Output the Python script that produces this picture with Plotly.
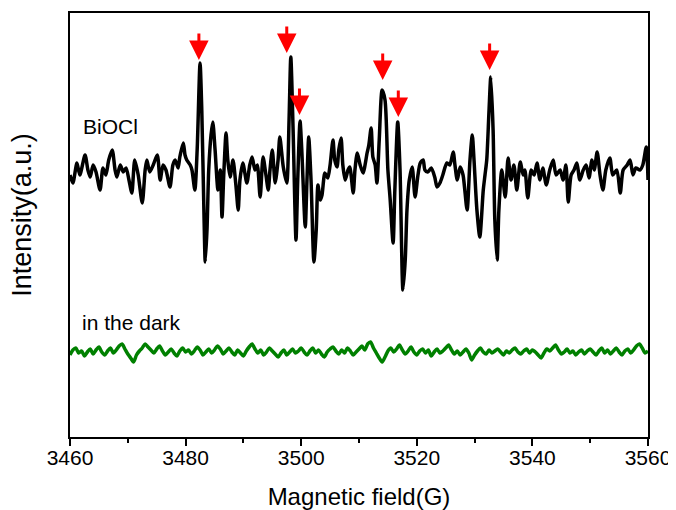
import plotly.graph_objects as go

# ---- BiOCl spectrum (field in G, intensity a.u.) ----
bioc_field = [3460.0, 3460.5, 3461.2, 3461.7, 3462.6, 3463.1, 3463.5, 3464.0, 3464.5, 3465.2,
              3465.7, 3466.2, 3466.7, 3467.3, 3467.8, 3468.1, 3468.7, 3469.2, 3469.7, 3470.2,
              3470.7, 3471.2, 3471.8, 3472.5, 3473.0, 3473.3, 3473.8, 3474.4, 3475.1, 3475.6,
              3476.1, 3476.6, 3477.3, 3477.8, 3478.2, 3478.7, 3479.0, 3479.6, 3479.9, 3480.2,
              3480.8, 3481.1, 3481.6, 3482.0, 3482.5, 3482.8, 3483.2, 3483.4, 3483.7, 3484.0,
              3484.4, 3484.7, 3485.1, 3485.6, 3486.0, 3486.3, 3486.6, 3487.0, 3487.3, 3487.7,
              3488.2, 3488.7, 3489.1, 3489.4, 3489.9, 3490.6, 3491.1, 3491.5, 3492.0, 3492.4,
              3492.9, 3493.4, 3493.9, 3494.3, 3494.6, 3495.0, 3495.5, 3496.0, 3496.3, 3496.9,
              3497.5, 3497.9, 3498.2, 3498.6, 3499.1, 3499.4, 3499.8, 3500.1, 3500.7, 3501.0,
              3501.3, 3501.7, 3502.2, 3502.6, 3502.9, 3503.3, 3503.6, 3504.1, 3504.6, 3505.0,
              3505.5, 3505.8, 3506.2, 3506.5, 3506.9, 3507.2, 3507.6, 3508.1, 3508.4, 3509.0,
              3509.3, 3509.7, 3510.2, 3510.7, 3511.4, 3511.7, 3512.1, 3512.4, 3512.8, 3513.1,
              3513.5, 3514.0, 3514.5, 3515.0, 3515.4, 3515.9, 3516.2, 3516.7, 3517.1, 3517.6,
              3518.0, 3518.3, 3518.7, 3519.2, 3519.7, 3520.2, 3520.6, 3521.1, 3521.4, 3521.9,
              3522.5, 3523.1, 3523.5, 3524.0, 3524.5, 3525.2, 3525.7, 3526.3, 3526.6, 3527.0,
              3527.5, 3528.0, 3528.7, 3529.2, 3529.6, 3529.9, 3530.4, 3530.9, 3531.5, 3531.8,
              3532.1, 3532.5, 3532.8, 3533.2, 3533.5, 3533.9, 3534.2, 3534.7, 3535.3, 3535.8,
              3536.3, 3536.8, 3537.3, 3537.9, 3538.4, 3538.7, 3539.2, 3539.8, 3540.3, 3540.8,
              3541.3, 3541.8, 3542.4, 3543.0, 3543.6, 3544.1, 3544.8, 3545.3, 3545.8, 3546.2,
              3546.7, 3547.2, 3547.7, 3548.2, 3548.8, 3549.3, 3549.8, 3550.3, 3550.7, 3551.2,
              3551.7, 3552.2, 3552.7, 3553.4, 3553.9, 3554.6, 3555.2, 3555.7, 3556.4, 3556.9,
              3557.4, 3557.9, 3558.6, 3559.1, 3559.7, 3560.0]
bioc_int = [-3, -11, 9, -3, 17, 2, -5, 7, 0, -18,
            4, -3, 12, 22, 2, -5, 7, 0, 4, -8,
            -21, 12, -3, -31, 2, 12, 0, 7, 17, -8,
            7, 2, -15, 7, 12, 4, 15, 29, 17, 12,
            7, 2, -18, 22, 109, 62, -48, -90, -58, 2,
            37, 50, 22, -18, 2, -45, -3, 39, 12, -5,
            12, -13, -38, -8, 9, -11, 7, 15, 2, 7,
            -25, 15, -3, -18, 2, 22, -11, 12, 35, 5,
            -11, 52, 115, 42, -68, -8, 51, 22, -55, -8,
            35, -8, -90, -58, -13, -28, -23, -1, -6, 7,
            32, 12, 5, 22, 34, 7, -8, 2, 5, -21,
            2, 19, 7, -1, 19, 27, 44, 15, 7, -11,
            32, 82, 72, 2, -28, -71, -18, 50, 2, -118,
            -88, -38, -8, 5, -25, -3, 9, 12, 2, 0,
            4, -5, -15, -11, -3, 9, 7, 20, 7, -8,
            5, -3, -38, 12, 37, 12, -38, -65, -18, -3,
            12, 62, 95, 42, -48, -88, -38, 2, -25, 14,
            -8, 7, -18, 10, -3, 2, -26, 2, -3, 9,
            -8, 4, -13, 2, 12, -3, 2, -8, 7, -30,
            -3, 2, 9, -8, 2, 7, -6, 12, 2, 20,
            -3, -18, 2, 14, -3, 2, -21, 2, 7, 12,
            -3, 4, 2, 7, 25, -8]

# ---- in the dark spectrum (sampled every 0.5 G from 3460 G) ----
dark_start = 3460.0
dark_step = 0.5
dark_int = [-183, -178, -176, -181, -179, -184, -180, -177, -182, -178, -175, -180, -183, -179, -176, -181, -178, -174, -172, -177, -182,
            -186, -190, -183, -179, -176, -172, -175, -178, -181, -177, -174, -179, -183, -180, -177, -181, -184, -179, -176, -180,
            -178, -182, -179, -175, -178, -183, -180, -177, -181, -178, -174, -177, -182, -179, -176, -180, -183, -178, -181, -184,
            -179, -175, -172, -177, -181, -178, -183, -180, -176, -179, -182, -185, -181, -178, -183, -180, -177, -181, -179, -176,
            -180, -183, -179, -176, -181, -178, -182, -185, -180, -177, -175, -179, -182, -178, -181, -176, -179, -183, -180, -177,
            -174, -178, -172, -170, -176, -181, -186, -190, -185, -179, -176, -180, -177, -173, -178, -182, -179, -175, -180, -183,
            -179, -177, -181, -178, -184, -180, -177, -181, -179, -176, -173, -178, -182, -179, -183, -180, -177, -181, -188, -183,
            -179, -176, -180, -182, -178, -181, -179, -177, -180, -183, -179, -181, -178, -176, -180, -182, -179, -177, -181, -178,
            -180, -183, -186, -181, -177, -179, -176, -173, -178, -182, -180, -177, -181, -179, -183, -180, -178, -182, -179, -177,
            -180, -183, -179, -176, -181, -178, -182, -179, -176, -180, -183, -179, -177, -181, -178, -174, -172, -176, -181, -179]
dark_field = [dark_start + dark_step * i for i in range(len(dark_int))]

# ---- marked peaks (arrow tips) ----
peak_field = [3482.3, 3497.5, 3499.7, 3514.1, 3516.8, 3532.6]
peak_int = [112, 119, 57, 92, 55, 102]

x_ticks = [3460, 3480, 3500, 3520, 3540, 3560]

FONT = "Liberation Sans, Arial, sans-serif"

fig = go.Figure()
fig.add_trace(go.Scatter(x=bioc_field, y=bioc_int, mode="lines",
                         line=dict(color="black", width=3.5, shape="spline", smoothing=0.7),
                         showlegend=False))
fig.add_trace(go.Scatter(x=dark_field, y=dark_int, mode="lines",
                         line=dict(color="#008000", width=3.5, shape="spline", smoothing=0.7),
                         showlegend=False))

for px, py in zip(peak_field, peak_int):
    fig.add_annotation(x=px, y=py, xref="x", yref="y", ax=0, ay=-28,
                       showarrow=True, arrowhead=2, arrowsize=1.3, arrowwidth=3,
                       arrowcolor="#ff0000", text="")

fig.add_annotation(x=3461.9, y=46, xref="x", yref="y", text="BiOCl", showarrow=False,
                   xanchor="left", yanchor="middle", font=dict(family=FONT, size=21, color="black"))
fig.add_annotation(x=3461.7, y=-150, xref="x", yref="y", text="in the dark", showarrow=False,
                   xanchor="left", yanchor="middle", font=dict(family=FONT, size=21, color="black"))

# y-axis title as a rotated text
fig.add_annotation(x=-0.083, y=0.524, xref="paper", yref="paper", text="Intensity(a.u.)",
                   textangle=-90, showarrow=False, xanchor="center", yanchor="middle",
                   font=dict(family=FONT, size=27, color="black"))

fig.update_xaxes(range=[3460, 3560], tickvals=x_ticks, ticks="outside", ticklen=7, tickwidth=2,
                 tickcolor="black", showline=True, linewidth=2, linecolor="black", mirror=True,
                 showgrid=False, zeroline=False, automargin=False, ticklabelstandoff=-6,
                 minor=dict(dtick=10, tick0=3460, ticks="outside", ticklen=4, tickwidth=2, tickcolor="black"),
                 tickfont=dict(family=FONT, size=21, color="black"),
                 title=dict(text="Magnetic field(G)", font=dict(family=FONT, size=24, color="black"), standoff=23))
fig.update_yaxes(range=[-265, 159], showticklabels=False, ticks="", showline=True, linewidth=2,
                 linecolor="black", mirror=True, showgrid=False, zeroline=False, automargin=False)

# page body adds an 8px offset, so the figure is sized to fit the remaining window
fig.update_layout(width=668, height=502, margin=dict(l=62, r=28, t=5, b=73, autoexpand=False),
                  plot_bgcolor="white", paper_bgcolor="white")

fig.write_html("out.html")
